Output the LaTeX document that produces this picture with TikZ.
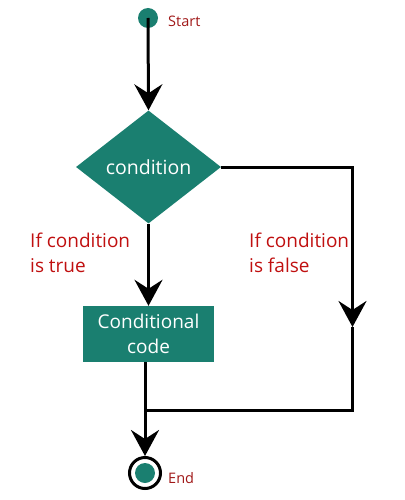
\documentclass[tikz,border=0pt]{standalone}
\usepackage{fontspec}
\setmainfont{Open Sans}
\usetikzlibrary{shapes.geometric,arrows.meta}
\definecolor{tealbox}{HTML}{1A7F70}
\definecolor{labred}{HTML}{C01010}
\definecolor{sered}{HTML}{A01818}
\tikzset{
  conn/.style={line width=3pt, black},
  arr/.style={conn, -{Stealth[length=26pt,width=28pt,inset=9pt]}},
  lab/.style={text=labred, font=\fontsize{19}{25}\selectfont, align=left, inner sep=0, anchor=north west},
  selab/.style={text=sered, font=\fontsize{14.5}{16}\selectfont, inner sep=0, anchor=base west},
}
\begin{document}
\begin{tikzpicture}[x=1pt,y=1pt]
\useasboundingbox (0,0) rectangle (404,-500);
% start
\node (start) [circle, fill=tealbox, minimum size=20, inner sep=0] at (148,-18) {};
\node (starttxt) [selab] at (168,-27) {Start};
% decision
\node (cond) [diamond, fill=tealbox, minimum width=145, minimum height=113, inner sep=0,
  text=white, font=\fontsize{19.5}{22}\selectfont] at (148.5,-167) {condition};
% box
\node (code) [rectangle, fill=tealbox, minimum width=131, minimum height=56, inner sep=0,
  text=white, align=center, font=\fontsize{19}{25}\selectfont] at (148.5,-334) {Conditional\\code};
% end
\node (end) [circle, draw=black, line width=3pt, minimum size=31, inner sep=0] at (145,-473) {};
\fill[tealbox] (end.center) circle (10);
\node (endtxt) [selab] at (168,-483) {End};
% labels
\node (ltrue) [lab] at (30,-233) {If condition\\is true};
\node (lfalse) [lab] at (249,-233) {If condition\\is false};
% coordinates
\coordinate (r1) at (352.5,-327);
\coordinate (j) at (145,-410);
% connectors
\draw[arr] (start.center) -- (cond.north);
\draw[arr] (cond.south) -- (code.north);
\draw[arr] (cond.east) -| (r1);
\draw[conn] (r1) |- (j);
\draw[arr] (code.south -| end.north) -- (end.north);
\end{tikzpicture}
\end{document}
